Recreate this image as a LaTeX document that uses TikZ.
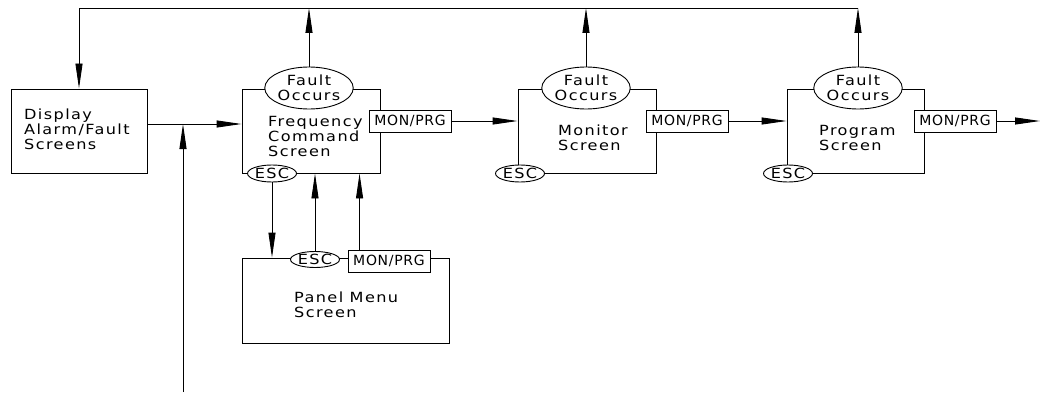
\documentclass[tikz,border=0pt]{standalone}
\usepackage{fontspec}
\setmainfont{DejaVu Sans}[FakeStretch=1.15,LetterSpace=10]
\newfontfamily\keyfont{DejaVu Sans}[LetterSpace=5]
\usetikzlibrary{arrows.meta,shapes.geometric}

\begin{document}
\begin{tikzpicture}[
        x=1pt, y=-1pt,
        every node/.style={font=\fontsize{14}{15}\selectfont},
        screen/.style={draw, line width=0.9pt, minimum height=84pt, inner sep=0pt},
        fault/.style={ellipse, draw, fill=white, line width=0.9pt, minimum width=77pt, minimum height=42pt, inner sep=0pt, align=center},
        esc/.style={ellipse, draw, fill=white, line width=0.9pt, minimum width=49pt, minimum height=17pt, inner sep=0pt},
        key/.style={draw, fill=white, line width=0.9pt, minimum width=82pt, minimum height=22pt, inner sep=1pt, font=\keyfont\fontsize{14}{15}\selectfont},
        txt/.style={anchor=west, align=left, inner sep=0pt},
        link/.style={line width=0.9pt},
        arr/.style={link, -{Triangle[length=25pt, width=7pt]}}
    ]
        \useasboundingbox (0,0) rectangle (1050,396);

        \coordinate (top) at (79,8);
        \coordinate (join) at (183,124);
        \coordinate (feed) at (183,392);
        \coordinate (out) at (1040,121);

        % screens
        \node[screen, minimum width=136pt] (disp) at (79,131) {};
        \node[screen, minimum width=138pt] (freq) at (311,131) {};
        \node[screen, minimum width=138pt] (mon) at (587,131) {};
        \node[screen, minimum width=137pt] (prog) at (855.5,131) {};
        \node[screen, minimum width=207pt, minimum height=85pt] (panel) at (345.5,300.5) {};

        \node[txt] at (24,129) {Display\\Alarm/Fault\\Screens};
        \node[txt] at (268,136) {Frequency\\Command\\Screen};
        \node[txt] at (558,138) {Monitor\\Screen};
        \node[txt] at (819,137.5) {Program\\Screen};
        \node[txt] at (294,304.5) {Panel Menu\\Screen};

        % keys on the screens
        \node[fault] (faultF) at (309,88) {Fault\\Occurs};
        \node[fault] (faultM) at (586,88) {Fault\\Occurs};
        \node[fault] (faultP) at (858,88) {Fault\\Occurs};

        \node[esc] (escF) at (272,173.5) {ESC};
        \node[esc] (escM) at (520,173.5) {ESC};
        \node[esc] (escP) at (788,173.5) {ESC};
        \node[esc, minimum height=16pt] (escN) at (315,259.5) {ESC};

        \node[key] (mpF) at (410,121) {MON/PRG};
        \node[key] (mpM) at (687,121) {MON/PRG};
        \node[key] (mpP) at (955,121) {MON/PRG};
        \node[key] (mpN) at (389,261) {MON/PRG};

        % fault path
        \foreach \f in {faultF,faultM,faultP}
            \draw[arr] (\f.north) -- (\f.north |- top);
        \draw[arr] (faultP.north |- top) -- (top) -- (disp.north);

        % entry
        \draw[link] (disp.east |- join) -- (join);
        \draw[arr] (join) -- (freq.west |- join);
        \draw[arr] (feed) -- (join);

        % MON/PRG chain
        \draw[arr] (mpF.east) -- (mon.west |- mpF.east);
        \draw[arr] (mpM.east) -- (prog.west |- mpM.east);
        \draw[arr] (mpP.east) -- (out);

        % panel menu
        \draw[arr] (escF.south) -- (escF.south |- panel.north);
        \draw[arr] (escN.north) -- (escN.north |- freq.south);
        \draw[arr] ([xshift=12pt]mpN.north west) -- ([xshift=12pt]mpN.north west |- freq.south);
    \end{tikzpicture}
\end{document}
